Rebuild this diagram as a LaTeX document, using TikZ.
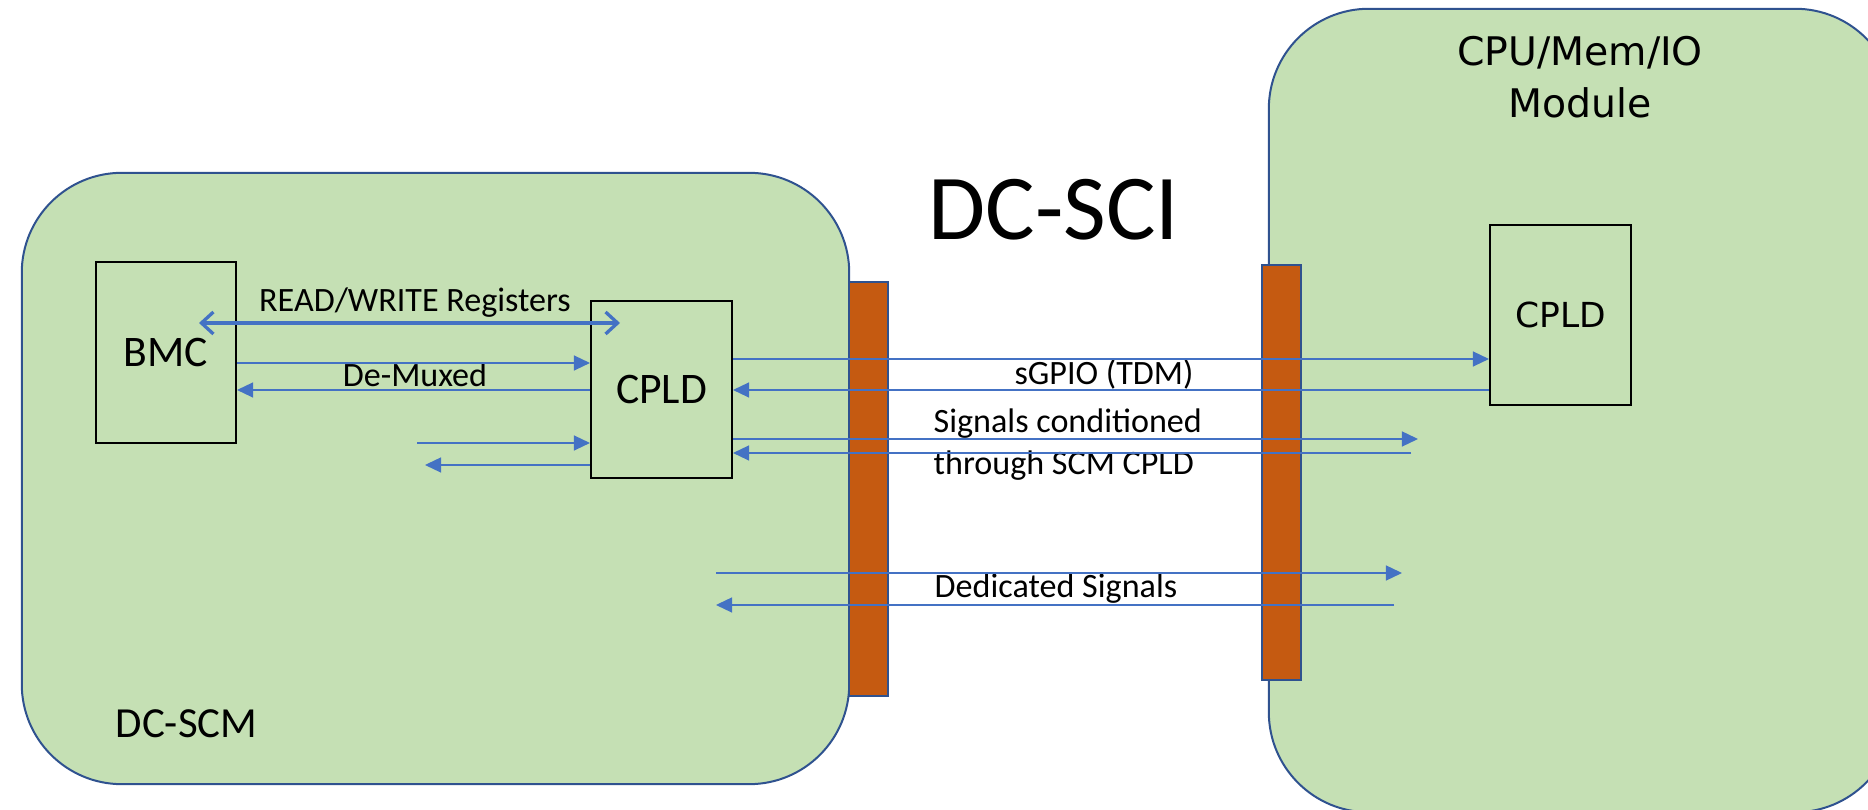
\documentclass[tikz,border=0pt]{standalone}
\usepackage{fontspec}
\setmainfont{Carlito}
\newfontfamily\dejavu{DejaVu Sans}
\usetikzlibrary{arrows.meta}
\definecolor{boardgreen}{HTML}{C5E0B4}
\definecolor{boardedge}{HTML}{2F528F}
\definecolor{connorange}{HTML}{C55A11}
\definecolor{sigblue}{HTML}{4472C4}
\begin{document}
\begin{tikzpicture}[x=0.01cm,y=-0.01cm,
  board/.style={draw=boardedge, fill=boardgreen, line width=0.02cm, rounded corners=1cm, inner sep=0pt},
  conn/.style={draw=boardedge, fill=connorange, line width=0.015cm, inner sep=0pt},
  chip/.style={draw=black, line width=0.02cm, inner sep=0pt, font=\fontsize{12.4}{14}\selectfont, text height=8pt, text depth=0pt},
  sig/.style={draw=sigblue, line width=0.013cm, -{Triangle[length=0.16cm,width=0.15cm]}},
  rw/.style={draw=sigblue, line width=0.033cm, {Straight Barb[length=0.12cm,width=0.22cm]}-{Straight Barb[length=0.12cm,width=0.22cm]}},
  lbl/.style={anchor=base, inner sep=0pt, font=\fontsize{9.7}{11.6}\selectfont},
  modlbl/.style={anchor=base, inner sep=0pt, font=\dejavu\fontsize{11.2}{13}\selectfont}
]
\useasboundingbox (0,0) rectangle (1868,810);
\clip (0,0) rectangle (1868,810);
% boards and connectors
\node[board, minimum width=8.27cm, minimum height=6.11cm] (scm) at (435.5,478.5) {};
\node[board, minimum width=6.26cm, minimum height=8.03cm] (mod) at (1582,410.5) {};
\node[conn, minimum width=0.39cm, minimum height=4.14cm] (barL) at (868.5,489) {};
\node[conn, minimum width=0.39cm, minimum height=4.15cm] (barR) at (1281.5,472.5) {};
% chips
\node[chip, minimum width=1.4cm, minimum height=1.81cm] (bmc) at (166,352.5) {BMC};
\node[chip, minimum width=1.41cm, minimum height=1.77cm] (cpldL) at (661.5,389.5) {CPLD};
\node[chip, minimum width=1.41cm, minimum height=1.8cm, font=\dejavu\fontsize{9.8}{12}\selectfont, text height=7.1pt] (cpldR) at (1560.5,315) {CPLD};
% titles
\node[modlbl] (modtitle) at (1580,66) {CPU/Mem/IO};
\node[modlbl] (modtitle2) at (1580,118) {Module};
\node[anchor=base, inner sep=0pt, font=\fontsize{26.4}{30}\selectfont] (sci) at (1054,240) {DC-SCI};
\node[anchor=base, inner sep=0pt, font=\fontsize{12.2}{14}\selectfont] (scmlbl) at (186.5,738) {DC-SCM};
% labels
\node[lbl] (rwlbl) at (415,312) {READ/WRITE Registers};
\node[lbl] (dmlbl) at (415,387) {De-Muxed};
\node[lbl] (sgpiolbl) at (1104,385) {sGPIO (TDM)};
\node[lbl, anchor=base west] (cond1) at (933,433) {Signals conditioned};
\node[lbl, anchor=base west] (cond2) at (933,475) {through SCM CPLD};
\node[lbl] (dedlbl) at (1056,598) {Dedicated Signals};
% free ends
\coordinate (rwA) at (199,323);
\coordinate (rwB) at (620,323);
\coordinate (inA) at (417,443);
\coordinate (outA) at (425,465);
\coordinate (condR) at (1418,439);
\coordinate (condRb) at (1411,453);
\coordinate (dedA) at (716,573);
\coordinate (dedB) at (1402,573);
\coordinate (dedC) at (1394,605);
\coordinate (dedD) at (716,605);
% connectors
\draw[rw] (rwA) -- (rwB);
\draw[sig] (bmc.east |- 0,363) -- (cpldL.west |- 0,363);
\draw[sig] (cpldL.west |- 0,390) -- (bmc.east |- 0,390);
\draw[sig] (inA) -- (cpldL.west |- inA);
\draw[sig] (cpldL.west |- outA) -- (outA);
\draw[sig] (cpldL.east |- 0,359) -- (cpldR.west |- 0,359);
\draw[sig] (cpldR.west |- 0,390) -- (cpldL.east |- 0,390);
\draw[sig] (cpldL.east |- condR) -- (condR);
\draw[sig] (condRb) -- (cpldL.east |- condRb);
\draw[sig] (dedA) -- (dedB);
\draw[sig] (dedC) -- (dedD);
\end{tikzpicture}
\end{document}
